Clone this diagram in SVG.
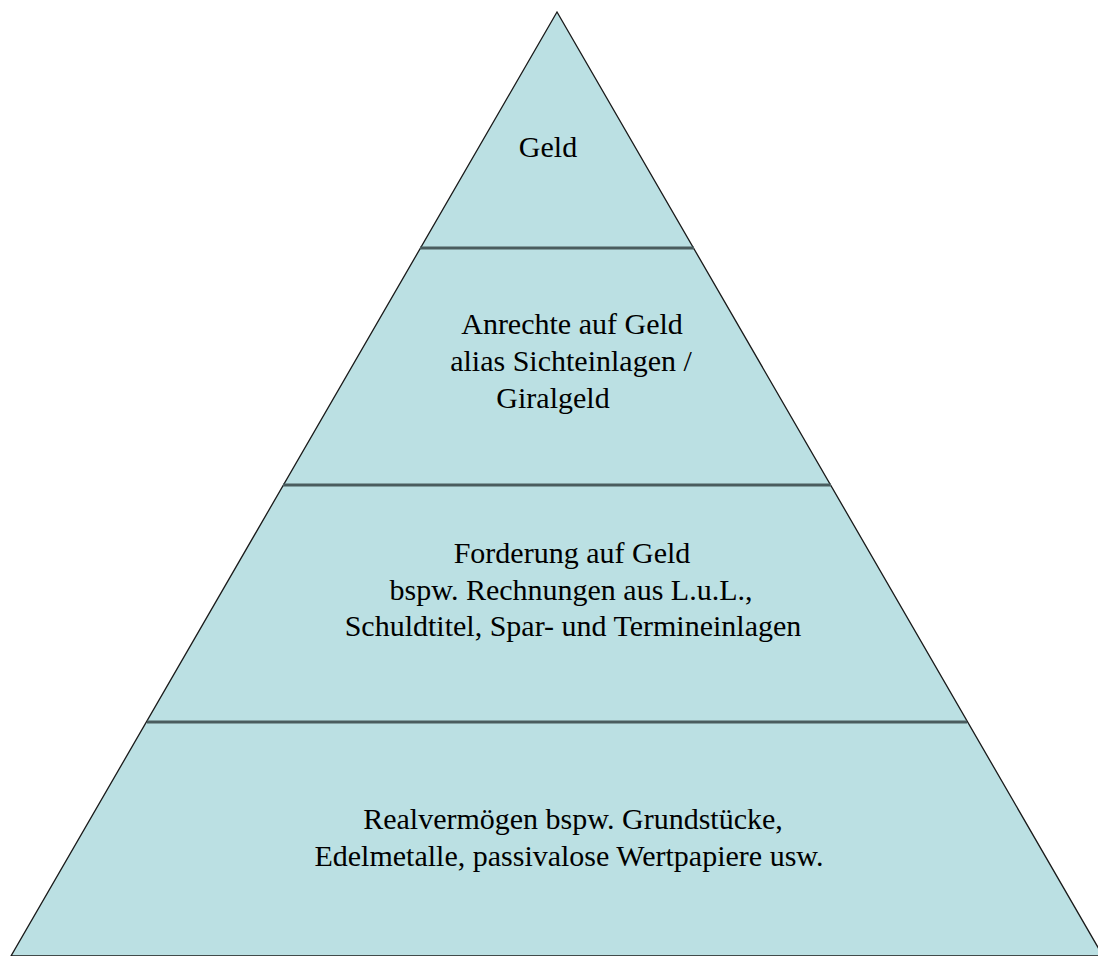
<svg xmlns="http://www.w3.org/2000/svg" width="1098" height="956" viewBox="0 0 1098 956">
<style>
.t{font-family:"Liberation Serif","Times New Roman",serif;font-size:30px;fill:#000;text-anchor:middle}
.sep{stroke:#4a5c5e;stroke-width:3}
</style>
<rect width="1098" height="956" fill="#fff"/>
<g id="pyramid">
<polygon points="557,12 11,956 1103,956" fill="#bbe0e3" stroke="#1a1a1a" stroke-width="1.3"/>
</g>
<g id="connectors">
<line class="sep" x1="420" y1="248" x2="694" y2="248"/>
<line class="sep" x1="283" y1="485" x2="831" y2="485"/>
<line class="sep" x1="147" y1="722" x2="967" y2="722"/>
</g>
<g id="level1"><text class="t" x="548" y="157">Geld</text></g>
<g id="level2">
<text class="t" x="572" y="334">Anrechte auf Geld</text>
<text class="t" x="571" y="371">alias Sichteinlagen /</text>
<text class="t" x="553" y="408">Giralgeld</text>
</g>
<g id="level3">
<text class="t" x="572" y="563">Forderung auf Geld</text>
<text class="t" x="571" y="600">bspw. Rechnungen aus L.u.L.,</text>
<text class="t" x="573" y="636">Schuldtitel, Spar- und Termineinlagen</text>
</g>
<g id="level4">
<text class="t" x="573" y="829">Realvermögen bspw. Grundstücke,</text>
<text class="t" x="569" y="866">Edelmetalle, passivalose Wertpapiere usw.</text>
</g>
</svg>
